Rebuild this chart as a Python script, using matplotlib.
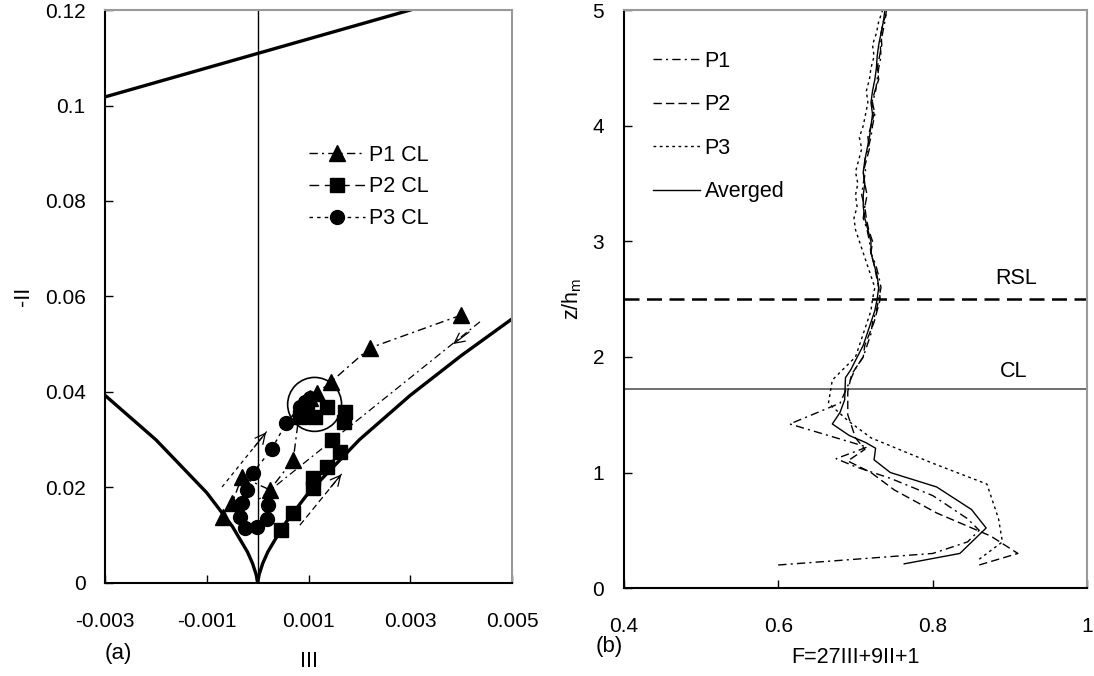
import matplotlib.pyplot as plt
from matplotlib.patches import Ellipse

plt.rcParams['font.family'] = ['Liberation Sans', 'DejaVu Sans']
plt.rcParams['font.size'] = 15

# ---- panel (a): anisotropy invariant map ----
top_iii = [-0.003, 0.003]
top_ii = [0.1018, 0.1200]
left_iii = [-0.003, -0.002, -0.001, -0.0005, -0.0002, -0.0001, -0.00003, 0.0]
left_ii = [0.0393, 0.0300, 0.0189, 0.0119, 0.0065, 0.0041, 0.0018, 0.0]
right_iii = [0.0, 0.00003, 0.0001, 0.0002, 0.0005, 0.001, 0.002, 0.003, 0.004, 0.005]
right_ii = [0.0, 0.0018, 0.0041, 0.0065, 0.0119, 0.0189, 0.0300, 0.0393, 0.0476, 0.0553]

p1_iii = [0.0040, 0.0022, 0.00144, 0.00117, 0.00103, 0.00093, 0.00083, 0.0007, 0.00024, -0.00031, -0.0005, -0.00068]
p1_ii = [0.0561, 0.0492, 0.0421, 0.0398, 0.0387, 0.0377, 0.0366, 0.0258, 0.0195, 0.0222, 0.0168, 0.0138]
p2_iii = [0.00083, 0.00097, 0.00113, 0.00136, 0.00172, 0.0017, 0.00146, 0.00162, 0.00136, 0.00109, 0.00109, 0.0007, 0.00046]
p2_ii = [0.0348, 0.0358, 0.0348, 0.0369, 0.0358, 0.0337, 0.0299, 0.0274, 0.0243, 0.022, 0.0199, 0.0147, 0.0111]
p3_iii = [0.00103, 0.00093, 0.00083, 0.00056, 0.00028, -0.0001, -0.00021, -0.00031, -0.00035, -0.00025, -0.00001, 0.00018, 0.0002]
p3_ii = [0.0387, 0.0379, 0.0369, 0.0335, 0.0281, 0.023, 0.0195, 0.0168, 0.0138, 0.0115, 0.0117, 0.0134, 0.0163]

x_ticks_a = [-0.003, -0.001, 0.001, 0.003, 0.005]
x_labels_a = ['-0.003', '-0.001', '0.001', '0.003', '0.005']
y_ticks_a = [0, 0.02, 0.04, 0.06, 0.08, 0.1, 0.12]
y_labels_a = ['0', '0.02', '0.04', '0.06', '0.08', '0.1', '0.12']

# ---- panel (b): F profiles ----
z_p1 = [0.2, 0.3, 0.4, 0.5, 0.6, 0.8, 0.95, 1.05, 1.12, 1.22, 1.42, 1.6, 1.75, 1.9, 2.0, 2.1, 2.2, 2.3, 2.4, 2.5, 2.6, 2.7, 2.8, 2.9,
        3.0, 3.1, 3.2, 3.3, 3.4, 3.5, 3.6, 3.7, 3.8, 3.9, 4.0, 4.1, 4.2, 4.3, 4.4, 4.5, 4.6, 4.7, 4.8, 4.9, 5.0]
f_p1 = [0.60, 0.80, 0.845, 0.86, 0.845, 0.80, 0.745, 0.70, 0.675, 0.715, 0.615, 0.68, 0.69, 0.70, 0.71, 0.715, 0.72, 0.722, 0.727, 0.73, 0.733, 0.73, 0.726, 0.72,
        0.718, 0.715, 0.71, 0.712, 0.708, 0.71, 0.713, 0.712, 0.716, 0.72, 0.722, 0.725, 0.722, 0.726, 0.728, 0.73, 0.733, 0.732, 0.735, 0.738, 0.74]
z_p2 = [0.2, 0.3, 0.45, 0.65, 0.85, 1.0, 1.1, 1.2, 1.3, 1.5, 1.7, 1.85, 2.0, 2.1, 2.2, 2.3, 2.4, 2.5, 2.6, 2.7, 2.8, 2.9,
        3.0, 3.1, 3.2, 3.3, 3.4, 3.5, 3.6, 3.7, 3.8, 3.9, 4.0, 4.1, 4.2, 4.3, 4.4, 4.5, 4.6, 4.7, 4.8, 4.9, 5.0]
f_p2 = [0.86, 0.91, 0.875, 0.805, 0.75, 0.72, 0.69, 0.712, 0.70, 0.69, 0.69, 0.695, 0.71, 0.712, 0.718, 0.724, 0.728, 0.732, 0.73, 0.727, 0.724, 0.72,
        0.722, 0.717, 0.714, 0.712, 0.715, 0.712, 0.71, 0.714, 0.718, 0.716, 0.72, 0.724, 0.721, 0.725, 0.73, 0.728, 0.731, 0.734, 0.733, 0.736, 0.742]
z_p3 = [0.25, 0.4, 0.6, 0.9, 1.08, 1.3, 1.45, 1.6, 1.8, 2.0, 2.1, 2.2, 2.3, 2.4, 2.5, 2.6, 2.7, 2.8, 2.9,
        3.0, 3.1, 3.2, 3.3, 3.4, 3.5, 3.6, 3.7, 3.8, 3.9, 4.0, 4.1, 4.2, 4.3, 4.4, 4.5, 4.6, 4.7, 4.8, 4.9, 5.0]
f_p3 = [0.86, 0.89, 0.885, 0.87, 0.80, 0.72, 0.69, 0.665, 0.67, 0.70, 0.705, 0.71, 0.715, 0.72, 0.722, 0.725, 0.72, 0.715, 0.71,
        0.705, 0.70, 0.698, 0.702, 0.70, 0.703, 0.70, 0.704, 0.708, 0.705, 0.71, 0.713, 0.716, 0.714, 0.718, 0.72, 0.724, 0.722, 0.727, 0.73, 0.735]
z_avg = [0.21, 0.3, 0.52, 0.68, 0.875, 1.0, 1.11, 1.21, 1.26, 1.32, 1.42, 1.52, 1.63, 1.82, 1.89, 1.97, 2.1, 2.2, 2.3, 2.4, 2.5, 2.6, 2.7, 2.8, 2.9,
         3.0, 3.1, 3.2, 3.3, 3.4, 3.5, 3.6, 3.7, 3.8, 3.9, 4.0, 4.1, 4.2, 4.3, 4.4, 4.5, 4.6, 4.7, 4.8, 4.9, 5.0]
f_avg = [0.763, 0.835, 0.869, 0.85, 0.805, 0.745, 0.724, 0.726, 0.713, 0.692, 0.67, 0.68, 0.686, 0.687, 0.694, 0.70, 0.71, 0.715, 0.72, 0.725, 0.728, 0.73, 0.728, 0.724, 0.72,
         0.72, 0.716, 0.712, 0.71, 0.71, 0.712, 0.71, 0.712, 0.715, 0.718, 0.72, 0.722, 0.72, 0.722, 0.725, 0.727, 0.728, 0.73, 0.733, 0.736, 0.738]

rsl_z = 2.5
cl_z = 1.72
x_ticks_b = [0.4, 0.6, 0.8, 1.0]
x_labels_b = ['0.4', '0.6', '0.8', '1']

fig = plt.figure(figsize=(10.94, 6.76), dpi=100)
ax1 = fig.add_axes([0.096, 0.1376, 0.372, 0.8476])
ax2 = fig.add_axes([0.570, 0.130, 0.424, 0.855])

for ax in (ax1, ax2):
    ax.tick_params(direction='in', length=6, width=1, labelsize=15)
    ax.tick_params(axis='x', pad=21)
    ax.tick_params(axis='y', pad=14)
    ax.spines['left'].set_linewidth(1.5)
    ax.spines['bottom'].set_linewidth(1.5)
    for s in ('top', 'right'):
        ax.spines[s].set_color('#999999')
        ax.spines[s].set_linewidth(1.5)

# panel (a)
ax1.plot(top_iii, top_ii, color='k', lw=2.4)
ax1.plot(left_iii, left_ii, color='k', lw=2.4)
ax1.plot(right_iii, right_ii, color='k', lw=2.4)
ax1.axvline(0, color='k', lw=1)

ax1.plot(p1_iii, p1_ii, color='k', ls=(0, (6, 3, 1.5, 3)), lw=1, marker='^', ms=11, label='P1 CL')
ax1.plot(p2_iii, p2_ii, color='k', ls=(0, (7, 4)), lw=1, marker='s', ms=10, label='P2 CL')
ax1.plot(p3_iii, p3_ii, color='k', ls=(0, (2.5, 3)), lw=1, marker='o', ms=10, label='P3 CL')

# annotations: circle and trend arrows
ax1.add_patch(Ellipse((0.00112, 0.0374), 0.00106, 0.0113, fill=False, ec='k', lw=1.2))
ax1.plot([0.00437, 0.00001], [0.0547, 0.0174], color='k', ls=(0, (6, 3, 1.5, 3)), lw=0.9)
ax1.annotate('', xy=(0.0038, 0.0497), xytext=(0.0042, 0.0529),
             arrowprops=dict(arrowstyle='->', color='k', lw=0.9, mutation_scale=18))
ax1.plot([0.00083, 0.00168], [0.0121, 0.0232], color='k', ls=(0, (5, 3)), lw=0.9)
ax1.annotate('', xy=(0.00168, 0.0232), xytext=(0.0014, 0.0196),
             arrowprops=dict(arrowstyle='->', color='k', lw=0.9, mutation_scale=18))
ax1.plot([-0.0007, 0.0002], [0.0201, 0.032], color='k', ls=(0, (3, 3)), lw=0.9)
ax1.annotate('', xy=(0.0002, 0.032), xytext=(-0.0001, 0.028),
             arrowprops=dict(arrowstyle='->', color='k', lw=0.9, mutation_scale=18))

ax1.set_xlim(-0.003, 0.005)
ax1.set_ylim(0, 0.12)
ax1.set_xticks(x_ticks_a)
ax1.set_xticklabels(x_labels_a)
ax1.set_yticks(y_ticks_a)
ax1.set_yticklabels(y_labels_a)
ax1.set_ylabel('-II', fontsize=15.5, labelpad=8)
ax1.set_xlabel('III', fontsize=15.5, labelpad=14)
fig.text(0.108, 0.033, '(a)', fontsize=16, ha='center', va='center')
ax1.legend(loc='upper left', bbox_to_anchor=(0.48, 0.78), frameon=False, fontsize=15.5,
           handlelength=2.6, labelspacing=0.5, handletextpad=0.2, borderaxespad=0)

# panel (b)
ax2.axhline(rsl_z, color='k', ls=(0, (6, 3)), lw=1.8)
ax2.axhline(cl_z, color='#555555', lw=1.2)
ax2.plot(f_p1, z_p1, color='k', ls=(0, (6, 3, 1.5, 3)), lw=1, label='P1')
ax2.plot(f_p2, z_p2, color='k', ls=(0, (6, 3)), lw=1, label='P2')
ax2.plot(f_p3, z_p3, color='k', ls=(0, (2, 2.5)), lw=1, label='P3')
ax2.plot(f_avg, z_avg, color='k', lw=1, label='Averged')
ax2.text(0.908, 2.68, 'RSL', fontsize=15.5, ha='center', va='center')
ax2.text(0.905, 1.87, 'CL', fontsize=15.5, ha='center', va='center')

ax2.set_xlim(0.4, 1.0)
ax2.set_ylim(0, 5)
ax2.set_xticks(x_ticks_b)
ax2.set_xticklabels(x_labels_b)
ax2.set_yticks(range(6))
ax2.set_ylabel('z/h$_\\mathregular{m}$', fontsize=15.5, labelpad=6)
ax2.set_xlabel('F=27III+9II+1', fontsize=15.5, labelpad=8)
fig.text(0.557, 0.044, '(b)', fontsize=16, ha='center', va='center')
ax2.legend(loc='upper left', bbox_to_anchor=(0.045, 0.945), frameon=False, fontsize=15.5,
           handlelength=2.2, labelspacing=1.05, handletextpad=0.2, borderaxespad=0)

fig.savefig('out.png', dpi=100)
